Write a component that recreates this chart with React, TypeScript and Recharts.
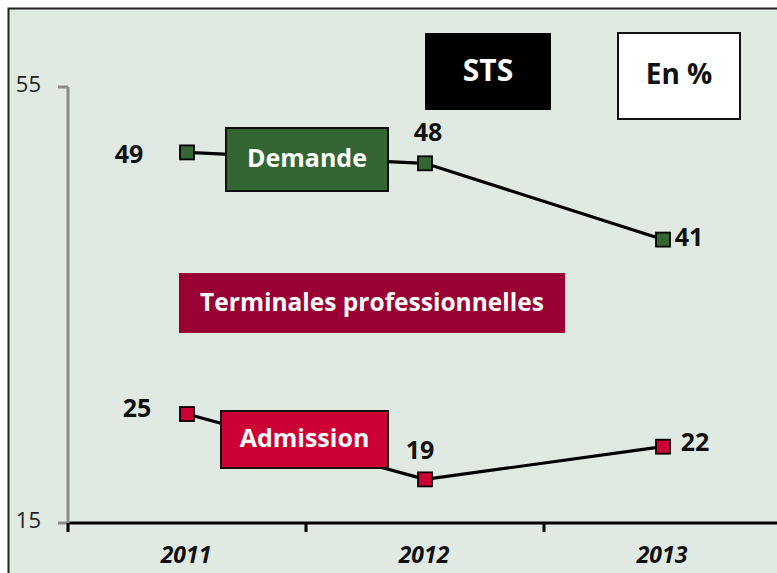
import { LineChart, Line, XAxis, YAxis } from "recharts";

const years = ["2011", "2012", "2013"];
const demande = [49, 48, 41];
const admission = [25, 19, 22];
const yTicks = [15, 55];

const data = years.map((year, i) => ({
  year,
  demande: demande[i],
  admission: admission[i],
}));

const FONT = "'Open Sans', Lato, sans-serif";
const BG = "#e1eae2";
const GREEN = "#336633";
const RED = "#cc0033";
const MAROON = "#990033";
const BAND = 238;

const SquareDot = (color: string) => (props: any) => {
  const { cx, cy } = props;
  if (cx == null || cy == null) return null;
  return (
    <rect
      x={cx - 7}
      y={cy - 7}
      width={14}
      height={14}
      fill={color}
      stroke="#000"
      strokeWidth={1.8}
    />
  );
};

// label offsets per point: [dx, dy]
const demandeOffsets = [
  [-58, 4],
  [3, -29],
  [26, 0],
];
const admissionOffsets = [
  [-50, -4],
  [-5, -27],
  [32, -2],
];

const ValueLabel = (offsets: number[][]) => (props: any) => {
  const { x, y, value, index } = props;
  const [dx, dy] = offsets[index] || [0, 0];
  return (
    <text
      x={x + dx}
      y={y + dy}
      textAnchor="middle"
      dominantBaseline="middle"
      fontFamily={FONT}
      fontWeight={700}
      fontSize={25}
      fill="#111"
    >
      {value}
    </text>
  );
};

const XTick = (props: any) => {
  const { x, y, payload } = props;
  return (
    <g>
      <line x1={x - BAND / 2} y1={y - 8} x2={x - BAND / 2} y2={y + 1} stroke="#000" strokeWidth={3} />
      <text
        x={x - 1}
        y={y + 32}
        textAnchor="middle"
        fontFamily={FONT}
        fontWeight={700}
        fontStyle="italic"
        fontSize={23}
        fill="#111"
      >
        {payload.value}
      </text>
    </g>
  );
};

const YTick = (props: any) => {
  const { x, y, payload } = props;
  return (
    <text
      x={x - 15}
      y={y - 1}
      textAnchor="end"
      dominantBaseline="middle"
      fontFamily={FONT}
      fontSize={22}
      fill="#222"
    >
      {payload.value}
    </text>
  );
};

const Box = ({
  x,
  y,
  w,
  h,
  fill,
  stroke,
  text,
  color,
  size,
}: {
  x: number;
  y: number;
  w: number;
  h: number;
  fill: string;
  stroke?: string;
  text: string;
  color: string;
  size: number;
}) => (
  <g>
    <rect x={x} y={y} width={w} height={h} fill={fill} stroke={stroke || "none"} strokeWidth={2} />
    <text
      x={x + w / 2}
      y={y + h / 2 + 1}
      textAnchor="middle"
      dominantBaseline="middle"
      fontFamily={FONT}
      fontWeight={700}
      fontSize={size}
      fill={color}
    >
      {text}
    </text>
  </g>
);

export default function App() {
  return (
    <div
      style={{
        position: "absolute",
        left: 0,
        top: 0,
        width: 777,
        height: 573,
        overflow: "hidden",
        background: "#fff",
      }}
    >
      <div style={{ position: "absolute", left: 9, top: 9, width: 800, height: 600, background: BG }} />
      <div style={{ position: "absolute", left: 0, top: 0 }}>
        <LineChart
          width={790}
          height={573}
          data={data}
          margin={{ top: 87, right: 8, bottom: 0, left: 0 }}
        >
          <XAxis
            dataKey="year"
            height={50}
            padding={{ left: BAND / 2, right: BAND / 2 }}
            axisLine={{ stroke: "#000", strokeWidth: 3 }}
            tickLine={false}
            tick={<XTick />}
            interval={0}
          />
          <YAxis
            width={68}
            domain={[15, 55]}
            ticks={yTicks}
            type="number"
            allowDataOverflow
            axisLine={{ stroke: "#8c8c8c", strokeWidth: 3 }}
            tickLine={{ stroke: "#8c8c8c", strokeWidth: 3 }}
            tickSize={10}
            tick={<YTick />}
          />
          <Line
            dataKey="demande"
            stroke="#000"
            strokeWidth={3.2}
            type="linear"
            dot={SquareDot(GREEN)}
            label={ValueLabel(demandeOffsets)}
            isAnimationActive={false}
          />
          <Line
            dataKey="admission"
            stroke="#000"
            strokeWidth={3.2}
            type="linear"
            dot={SquareDot(RED)}
            label={ValueLabel(admissionOffsets)}
            isAnimationActive={false}
          />
        </LineChart>
      </div>
      <svg
        width={777}
        height={573}
        style={{ position: "absolute", left: 0, top: 0, pointerEvents: "none" }}
      >
        <Box x={425} y={33} w={126} h={77} fill="#000" text="STS" color="#fff" size={30} />
        <Box x={618} y={33} w={122} h={86} fill="#fff" stroke="#111" text="En %" color="#111" size={28} />
        <Box x={226} y={128} w={162} h={63} fill={GREEN} stroke="#111" text="Demande" color="#fff" size={25} />
        <Box x={179} y={273} w={386} h={60} fill={MAROON} text="Terminales professionnelles" color="#fff" size={24.5} />
        <Box x={221} y={411} w={167} h={57} fill={RED} stroke="#111" text="Admission" color="#fff" size={25} />
        <rect x={8.5} y={8.5} width={800} height={600} fill="none" stroke="#222" strokeWidth={2} />
      </svg>
    </div>
  );
}
